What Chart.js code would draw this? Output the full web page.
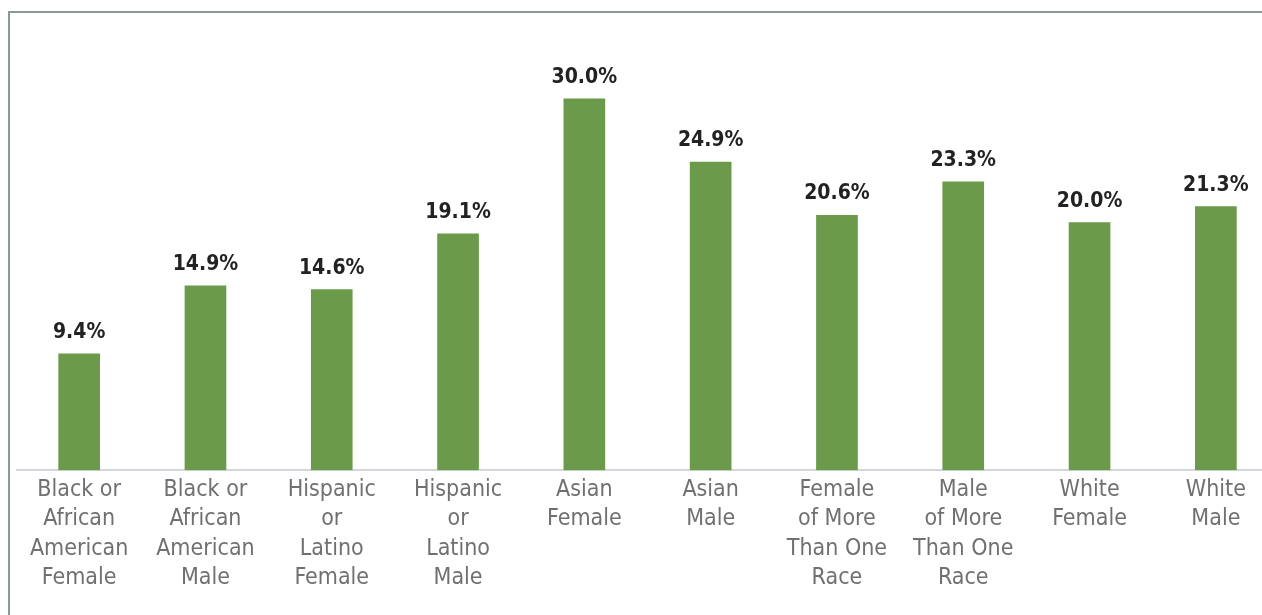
<!DOCTYPE html>
<html>
<head>
<meta charset="utf-8">
<script src="https://cdn.jsdelivr.net/npm/chart.js@4.4.0/dist/chart.umd.min.js"></script>
<style>
    html, body { margin: 0; padding: 0; background: #fff; overflow: hidden; width: 1262px; height: 615px; }
    #frame { position: absolute; left: 8px; top: 11px; width: 2000px; height: 2000px;
             border-left: 2px solid #8a9a98; border-top: 2px solid #8a9a98; }
    #wrap { position: absolute; left: 16px; top: 0; width: 1263px; height: 615px; }
</style>
</head>
<body>
<div id="frame"></div>
<div id="wrap"><canvas id="barChart"></canvas></div>
<script>
// categories (multi-line labels) and series values (%)
const categories = [
    ['Black or', 'African', 'American', 'Female'],
    ['Black or', 'African', 'American', 'Male'],
    ['Hispanic', 'or', 'Latino', 'Female'],
    ['Hispanic', 'or', 'Latino', 'Male'],
    ['Asian', 'Female'],
    ['Asian', 'Male'],
    ['Female', 'of More', 'Than One', 'Race'],
    ['Male', 'of More', 'Than One', 'Race'],
    ['White', 'Female'],
    ['White', 'Male']
];
const values = [9.4, 14.9, 14.6, 19.1, 30.0, 24.9, 20.6, 23.3, 20.0, 21.3];

const narrow = '"Liberation Sans Narrow", "DejaVu Sans Condensed", "Roboto", sans-serif';

// draw the value labels above each bar
const valueLabels = {
    id: 'valueLabels',
    afterDatasetsDraw(chart) {
        const ctx = chart.ctx;
        const meta = chart.getDatasetMeta(0);
        ctx.save();
        ctx.font = 'bold 21px ' + narrow;
        ctx.fillStyle = '#222222';
        ctx.textAlign = 'center';
        ctx.textBaseline = 'alphabetic';
        meta.data.forEach((bar, i) => {
            ctx.fillText(values[i].toFixed(1) + '%', bar.x, bar.y - 16);
        });
        ctx.restore();
    }
};

const ctx = document.getElementById('barChart').getContext('2d');
const chart = new Chart(ctx, {
    type: 'bar',
    data: {
        labels: categories,
        datasets: [{
            data: values,
            backgroundColor: '#6a9a4a',
            borderWidth: 0,
            barThickness: 41
        }]
    },
    options: {
        responsive: true,
        maintainAspectRatio: false,
        animation: false,
        layout: { padding: { top: 37, bottom: 17, left: 0, right: 0 } },
        plugins: {
            legend: { display: false },
            tooltip: { enabled: false }
        },
        scales: {
            x: {
                grid: { display: false, drawTicks: false },
                border: { display: true, color: '#d3d7dc', width: 2 },
                ticks: {
                    color: '#707070',
                    padding: 5,
                    maxRotation: 0,
                    autoSkip: false,
                    font: { family: narrow, size: 23, lineHeight: 1.28 }
                }
            },
            y: {
                display: false,
                min: 0,
                max: 35
            }
        }
    },
    plugins: [valueLabels]
});
</script>
</body>
</html>
